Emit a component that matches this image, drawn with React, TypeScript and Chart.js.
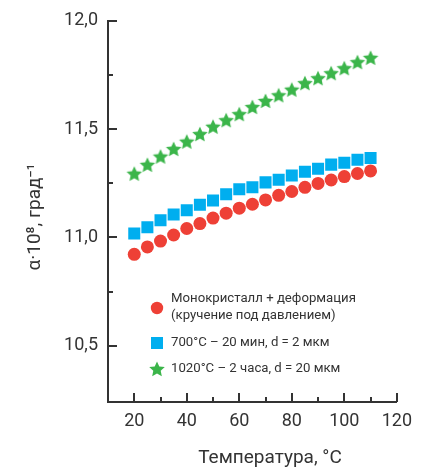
import { useEffect, useRef } from 'react';
import { Chart, registerables } from 'chart.js';

Chart.register(...registerables);

const temperatures = [20, 25, 30, 35, 40, 45, 50, 55, 60, 65, 70, 75, 80, 85, 90, 95, 100, 105, 110];
const monoDeformed = [10.922, 10.956, 10.983, 11.011, 11.041, 11.064, 11.089, 11.112, 11.135, 11.153, 11.173, 11.194, 11.212, 11.231, 11.249, 11.265, 11.281, 11.295, 11.307];
const anneal700 = [11.018, 11.047, 11.079, 11.106, 11.125, 11.151, 11.17, 11.199, 11.222, 11.231, 11.254, 11.266, 11.286, 11.303, 11.317, 11.336, 11.345, 11.358, 11.367];
const anneal1020 = [11.294, 11.335, 11.373, 11.408, 11.442, 11.477, 11.511, 11.541, 11.569, 11.602, 11.63, 11.656, 11.682, 11.712, 11.735, 11.758, 11.781, 11.809, 11.829];

const yLabelTicks = [10.5, 11, 11.5, 12];
const yMinorTicks = [10.75, 11.25, 11.75];
const xLabelTicks = [20, 40, 60, 80, 100, 120];
const xMinorTicks = [30, 50, 70, 90, 110];

const legendLabels = [
  ['Монокристалл + деформация', '(кручение под давлением)'],
  ['700°C – 20 мин, d = 2 мкм'],
  ['1020°C – 2 часа, d = 20 мкм'],
];
const xTitle = 'Температура, °C';
const yTitle = 'α·10⁸, град⁻¹';

const RED = '#ee4036';
const BLUE = '#00aeef';
const GREEN = '#3bb54a';
const INK = '#333333';
const FONT = 'Roboto, "Noto Sans", sans-serif';

function drawStar(ctx: CanvasRenderingContext2D, cx: number, cy: number, R: number, r: number, color: string) {
  ctx.beginPath();
  for (let i = 0; i < 10; i++) {
    const rad = i % 2 === 0 ? R : r;
    const a = -Math.PI / 2 + (i * Math.PI) / 5;
    const x = cx + rad * Math.cos(a);
    const y = cy + rad * Math.sin(a);
    if (i === 0) ctx.moveTo(x, y);
    else ctx.lineTo(x, y);
  }
  ctx.closePath();
  ctx.fillStyle = color;
  ctx.fill();
}

function makeStarCanvas(): HTMLCanvasElement {
  const c = document.createElement('canvas');
  c.width = 18;
  c.height = 18;
  const ctx = c.getContext('2d')!;
  drawStar(ctx, 9, 9.6, 8.2, 3.9, GREEN);
  return c;
}

export default function App() {
  const ref = useRef<HTMLCanvasElement | null>(null);

  useEffect(() => {
    document.body.style.margin = '0';
    const canvas = ref.current!;
    const star = makeStarCanvas();

    const decor = {
      id: 'decor',
      afterDraw(chart: any) {
        const ctx: CanvasRenderingContext2D = chart.ctx;
        const xs = chart.scales.x;
        const ys = chart.scales.y;
        const { left, bottom } = chart.chartArea;
        ctx.save();
        ctx.strokeStyle = INK;
        ctx.lineWidth = 2;
        const tick = (x1: number, y1: number, x2: number, y2: number) => {
          ctx.beginPath();
          ctx.moveTo(x1, y1);
          ctx.lineTo(x2, y2);
          ctx.stroke();
        };
        yLabelTicks.forEach((v) => { const y = Math.round(ys.getPixelForValue(v)); tick(left, y, left + 9, y); });
        yMinorTicks.forEach((v) => { const y = Math.round(ys.getPixelForValue(v)); tick(left, y, left + 5, y); });
        xLabelTicks.forEach((v) => { const x = Math.round(xs.getPixelForValue(v)); tick(x, bottom, x, bottom - 9); });
        xMinorTicks.forEach((v) => { const x = Math.round(xs.getPixelForValue(v)); tick(x, bottom, x, bottom - 5); });

        // axis titles
        ctx.fillStyle = INK;
        ctx.font = `19px ${FONT}`;
        ctx.textAlign = 'center';
        ctx.textBaseline = 'middle';
        ctx.fillText(xTitle, 270, 458);
        ctx.save();
        ctx.translate(35, 217);
        ctx.rotate(-Math.PI / 2);
        ctx.fillText(yTitle, 0, 0);
        ctx.restore();

        // legend
        const mx = 157;
        const tx = 171;
        ctx.font = `13.2px ${FONT}`;
        ctx.textAlign = 'left';
        ctx.textBaseline = 'middle';
        ctx.fillStyle = RED;
        ctx.beginPath();
        ctx.arc(mx, 308, 6.2, 0, Math.PI * 2);
        ctx.fill();
        ctx.fillStyle = BLUE;
        ctx.fillRect(mx - 6, 343 - 6, 12, 12);
        drawStar(ctx, mx, 369.6, 8.2, 3.9, GREEN);
        ctx.fillStyle = INK;
        ctx.fillText(legendLabels[0][0], tx, 299);
        ctx.fillText(legendLabels[0][1], tx, 316);
        ctx.fillText(legendLabels[1][0], tx, 343);
        ctx.fillText(legendLabels[2][0], tx, 369);
        ctx.restore();
      },
    };

    const toPoints = (ys: number[]) => temperatures.map((t, i) => ({ x: t, y: ys[i] }));

    const chart = new Chart(canvas, {
      type: 'scatter',
      data: {
        datasets: [
          { label: legendLabels[2][0], data: toPoints(anneal1020), pointStyle: star as any, pointRadius: 9, backgroundColor: GREEN, borderWidth: 0 },
          { label: legendLabels[1][0], data: toPoints(anneal700), pointStyle: 'rect', pointRadius: 8.5, backgroundColor: BLUE, borderWidth: 0 },
          { label: legendLabels[0].join(' '), data: toPoints(monoDeformed), pointStyle: 'circle', pointRadius: 6.5, backgroundColor: RED, borderWidth: 0 },
        ],
      },
      options: {
        responsive: false,
        animation: false,
        layout: { padding: { top: 20, right: 21, left: 0, bottom: 0 } },
        plugins: { legend: { display: false }, tooltip: { enabled: false } },
        scales: {
          x: {
            type: 'linear',
            min: 10,
            max: 120,
            grid: { display: false, drawTicks: false },
            border: { display: true, color: INK, width: 2 },
            afterBuildTicks: (s: any) => { s.ticks = xLabelTicks.map((v) => ({ value: v })); },
            afterFit: (s: any) => { s.height = 66; },
            ticks: { color: INK, font: { family: FONT, size: 18 }, padding: 9, maxRotation: 0, autoSkip: false },
          },
          y: {
            type: 'linear',
            min: 10.24,
            max: 12,
            grid: { display: false, drawTicks: false },
            border: { display: true, color: INK, width: 2 },
            afterBuildTicks: (s: any) => { s.ticks = yLabelTicks.map((v) => ({ value: v })); },
            afterFit: (s: any) => { s.width = 108; },
            ticks: {
              color: INK,
              font: { family: FONT, size: 18 },
              padding: 10,
              callback: (v: any) => Number(v).toFixed(1).replace('.', ','),
            },
          },
        },
      },
      plugins: [decor],
    });
    return () => chart.destroy();
  }, []);

  return <canvas ref={ref} width={421} height={468} style={{ display: 'block' }} />;
}
